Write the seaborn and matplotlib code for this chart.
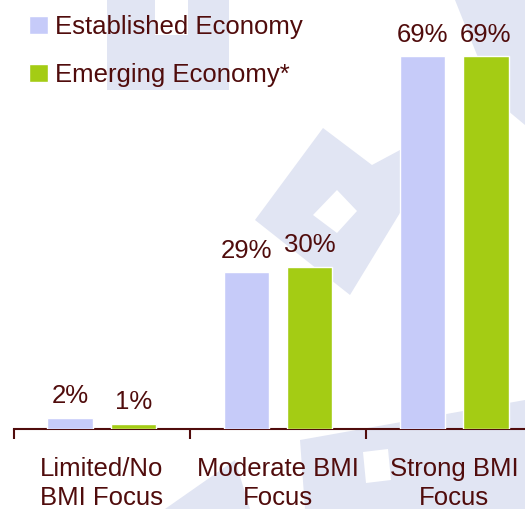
import matplotlib
matplotlib.use("Agg")
import matplotlib.pyplot as plt
import matplotlib.patches as mpatches
import seaborn as sns
import pandas as pd

# Share of companies by business-model-innovation focus
categories = ["Limited/No\nBMI Focus", "Moderate BMI\nFocus", "Strong BMI\nFocus"]
established = [2, 29, 69]
emerging = [1, 30, 69]
series_names = ["Established Economy", "Emerging Economy*"]
colors = ["#c6cbf9", "#a4cc14"]

TEXT = "#500c0c"
FS = 18.5

df = pd.DataFrame({
    "category": categories * 2,
    "value": established + emerging,
    "economy": [series_names[0]] * 3 + [series_names[1]] * 3,
})

sns.set_theme(style="white")
plt.rcParams["font.family"] = ["Liberation Sans", "DejaVu Sans"]

W, H = 525, 509
X0, UNIT = 13.5, 176.3   # left edge of the axes and pixels per category
fig = plt.figure(figsize=(W / 100, H / 100), dpi=100)
fig.patch.set_facecolor("white")

# faint background logo shapes, in pixel coordinates (y downward)
bg = fig.add_axes([0, 0, 1, 1], zorder=-1)
bg.set_xlim(0, W)
bg.set_ylim(H, 0)
bg.axis("off")

def shape(points, color):
    bg.add_patch(mpatches.Polygon(points, closed=True, facecolor=color, edgecolor="none"))

wm = "#e1e5f3"
shape([(107, 0), (229, 0), (229, 90), (107, 90)], wm)
shape([(155, 0), (188, 0), (188, 35), (155, 35)], "white")
shape([(455, 0), (525, 0), (525, 125), (495, 100)], wm)
shape([(323, 128), (372, 165), (400, 150), (420, 180), (350, 295), (255, 220)], wm)
shape([(337, 190), (357, 211), (337, 233), (313, 215)], "white")
shape([(305, 509), (300, 440), (525, 400), (525, 509)], wm)
shape([(363, 452), (388, 449), (391, 480), (366, 483)], "white")
shape([(165, 509), (235, 460), (250, 509)], wm)

ax = fig.add_axes([X0 / W, (H - 429) / H, (W - X0) / W, 429 / H])
ax.set_facecolor("none")

sns.barplot(data=df, x="category", y="value", hue="economy", palette=colors,
            hue_order=series_names, order=categories, width=0.718, gap=0.284,
            saturation=1, ax=ax, zorder=3)

# value labels
for container in ax.containers:
    ax.bar_label(container, labels=[f"{v:.0f}%" for v in container.datavalues],
                 padding=7, fontsize=FS, color=TEXT)

# axes styling
for side in ["left", "right", "top"]:
    ax.spines[side].set_visible(False)
ax.spines["bottom"].set_color(TEXT)
ax.spines["bottom"].set_linewidth(1.5)
ax.set_yticks([])
ax.set_xlabel("")
ax.set_ylabel("")
ax.set_xticks(range(len(categories)))
ax.set_xticklabels(categories, fontsize=FS, color=TEXT, linespacing=1.25)
ax.tick_params(axis="x", which="major", bottom=False, length=0, pad=20)
ax.set_xticks([-0.5, 0.5, 1.5], minor=True)
ax.tick_params(axis="x", which="minor", bottom=True, length=7, width=1.5,
               color=TEXT, direction="out")

ax.set_xlim(-0.5, -0.5 + (W - X0) / UNIT)
ax.set_ylim(0, 429 / 5.4)

handles, labels = ax.get_legend_handles_labels()
ax.legend(handles, labels, loc="upper left", bbox_to_anchor=(29 / W, 1 - 15 / H),
          bbox_transform=fig.transFigure, frameon=False, fontsize=FS,
          handlelength=0.72, handleheight=0.72, handletextpad=0.28,
          labelspacing=0.93, borderpad=0, borderaxespad=0, labelcolor=TEXT)

fig.savefig("out.png", dpi=100, facecolor="white")
